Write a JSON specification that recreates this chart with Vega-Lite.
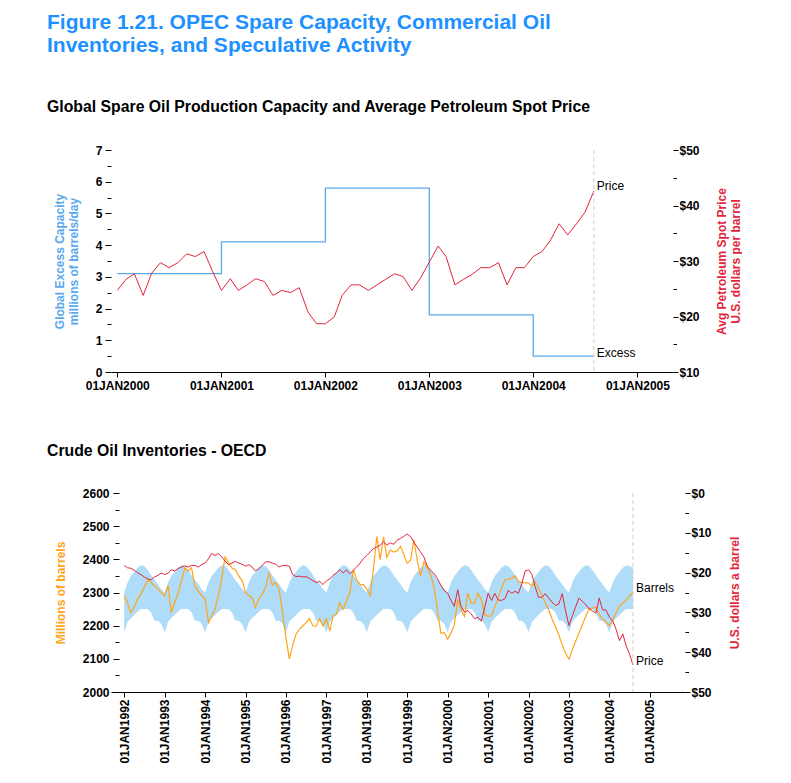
{
  "$schema": "https://vega.github.io/schema/vega-lite/v6.json",
  "background": "white",
  "padding": {"left": 47, "top": 12, "right": 0, "bottom": 0},
  "title": {
    "text": ["Figure 1.21. OPEC Spare Capacity, Commercial Oil", "Inventories, and Speculative Activity"],
    "anchor": "start", "frame": "bounds", "fontSize": 21, "fontWeight": "bold", "color": "#1E90FF", "lineHeight": 23, "offset": 43
  },
  "datasets": {
    "excess": [
      {"date": "2000-01-01T00:00", "capacity": 3.1},
      {"date": "2001-01-01T00:00", "capacity": 4.1},
      {"date": "2002-01-01T00:00", "capacity": 5.8},
      {"date": "2003-01-01T00:00", "capacity": 1.8},
      {"date": "2004-01-01T00:00", "capacity": 0.5},
      {"date": "2004-08-01T00:00", "capacity": 0.5, "label": "Excess"}
    ],
    "spot": [
      {"date": "2000-01-01T00:00", "price": 24.7}, {"date": "2000-02-01T00:00", "price": 26.7}, {"date": "2000-03-01T00:00", "price": 27.7}, {"date": "2000-04-01T00:00", "price": 23.8},
      {"date": "2000-05-01T00:00", "price": 27.8}, {"date": "2000-06-01T00:00", "price": 29.7}, {"date": "2000-07-01T00:00", "price": 28.8}, {"date": "2000-08-01T00:00", "price": 29.7},
      {"date": "2000-09-01T00:00", "price": 31.3}, {"date": "2000-10-01T00:00", "price": 30.8}, {"date": "2000-11-01T00:00", "price": 31.7}, {"date": "2000-12-01T00:00", "price": 28.1},
      {"date": "2001-01-01T00:00", "price": 24.7}, {"date": "2001-02-01T00:00", "price": 26.8}, {"date": "2001-03-01T00:00", "price": 24.7}, {"date": "2001-04-01T00:00", "price": 25.7},
      {"date": "2001-05-01T00:00", "price": 26.8}, {"date": "2001-06-01T00:00", "price": 26.3}, {"date": "2001-07-01T00:00", "price": 23.8}, {"date": "2001-08-01T00:00", "price": 24.7},
      {"date": "2001-09-01T00:00", "price": 24.3}, {"date": "2001-10-01T00:00", "price": 25.2}, {"date": "2001-11-01T00:00", "price": 20.8}, {"date": "2001-12-01T00:00", "price": 18.7},
      {"date": "2002-01-01T00:00", "price": 18.7}, {"date": "2002-02-01T00:00", "price": 19.9}, {"date": "2002-03-01T00:00", "price": 23.8}, {"date": "2002-04-01T00:00", "price": 25.7},
      {"date": "2002-05-01T00:00", "price": 25.7}, {"date": "2002-06-01T00:00", "price": 24.7}, {"date": "2002-07-01T00:00", "price": 25.7}, {"date": "2002-08-01T00:00", "price": 26.7},
      {"date": "2002-09-01T00:00", "price": 27.7}, {"date": "2002-10-01T00:00", "price": 27.2}, {"date": "2002-11-01T00:00", "price": 24.7}, {"date": "2002-12-01T00:00", "price": 26.9},
      {"date": "2003-01-01T00:00", "price": 29.8}, {"date": "2003-02-01T00:00", "price": 32.7}, {"date": "2003-03-01T00:00", "price": 30.8}, {"date": "2003-04-01T00:00", "price": 25.7},
      {"date": "2003-05-01T00:00", "price": 26.7}, {"date": "2003-06-01T00:00", "price": 27.6}, {"date": "2003-07-01T00:00", "price": 28.8}, {"date": "2003-08-01T00:00", "price": 28.8},
      {"date": "2003-09-01T00:00", "price": 29.7}, {"date": "2003-10-01T00:00", "price": 25.7}, {"date": "2003-11-01T00:00", "price": 28.8}, {"date": "2003-12-01T00:00", "price": 28.8},
      {"date": "2004-01-01T00:00", "price": 30.8}, {"date": "2004-02-01T00:00", "price": 31.7}, {"date": "2004-03-01T00:00", "price": 33.7}, {"date": "2004-04-01T00:00", "price": 36.7},
      {"date": "2004-05-01T00:00", "price": 34.7}, {"date": "2004-06-01T00:00", "price": 36.7}, {"date": "2004-07-01T00:00", "price": 38.8}, {"date": "2004-08-01T00:00", "price": 42.6, "label": "Price"}
    ],
    "ref": [{"date": "2004-08-01T00:00"}],
    "oecd": [
      {"date":"1992-01-01T00:00","barrels":2291,"price":18.2,"hi":2300,"lo":2180},
      {"date":"1992-02-01T00:00","barrels":2269,"price":18.8,"hi":2330,"lo":2212},
      {"date":"1992-03-01T00:00","barrels":2239,"price":18.9,"hi":2350,"lo":2222},
      {"date":"1992-04-01T00:00","barrels":2256,"price":19.4,"hi":2362,"lo":2232},
      {"date":"1992-05-01T00:00","barrels":2280,"price":20.0,"hi":2375,"lo":2242},
      {"date":"1992-06-01T00:00","barrels":2296,"price":20.5,"hi":2382,"lo":2250},
      {"date":"1992-07-01T00:00","barrels":2316,"price":21.1,"hi":2380,"lo":2250},
      {"date":"1992-08-01T00:00","barrels":2338,"price":21.6,"hi":2368,"lo":2250},
      {"date":"1992-09-01T00:00","barrels":2330,"price":21.8,"hi":2352,"lo":2240},
      {"date":"1992-10-01T00:00","barrels":2320,"price":21.1,"hi":2338,"lo":2215},
      {"date":"1992-11-01T00:00","barrels":2310,"price":20.7,"hi":2325,"lo":2215},
      {"date":"1992-12-01T00:00","barrels":2300,"price":20.1,"hi":2310,"lo":2205},
      {"date":"1993-01-01T00:00","barrels":2290,"price":20.5,"hi":2300,"lo":2180},
      {"date":"1993-02-01T00:00","barrels":2321,"price":20.1,"hi":2330,"lo":2212},
      {"date":"1993-03-01T00:00","barrels":2239,"price":19.3,"hi":2350,"lo":2222},
      {"date":"1993-04-01T00:00","barrels":2270,"price":19.6,"hi":2362,"lo":2232},
      {"date":"1993-05-01T00:00","barrels":2297,"price":19.0,"hi":2375,"lo":2242},
      {"date":"1993-06-01T00:00","barrels":2335,"price":18.6,"hi":2382,"lo":2250},
      {"date":"1993-07-01T00:00","barrels":2374,"price":18.3,"hi":2380,"lo":2250},
      {"date":"1993-08-01T00:00","barrels":2364,"price":18.6,"hi":2368,"lo":2250},
      {"date":"1993-09-01T00:00","barrels":2374,"price":18.2,"hi":2352,"lo":2240},
      {"date":"1993-10-01T00:00","barrels":2319,"price":18.2,"hi":2338,"lo":2215},
      {"date":"1993-11-01T00:00","barrels":2304,"price":18.6,"hi":2325,"lo":2215},
      {"date":"1993-12-01T00:00","barrels":2291,"price":18.0,"hi":2310,"lo":2205},
      {"date":"1994-01-01T00:00","barrels":2281,"price":17.6,"hi":2300,"lo":2180},
      {"date":"1994-02-01T00:00","barrels":2209,"price":16.5,"hi":2330,"lo":2212},
      {"date":"1994-03-01T00:00","barrels":2229,"price":15.2,"hi":2350,"lo":2222},
      {"date":"1994-04-01T00:00","barrels":2250,"price":15.7,"hi":2362,"lo":2232},
      {"date":"1994-05-01T00:00","barrels":2290,"price":15.2,"hi":2375,"lo":2242},
      {"date":"1994-06-01T00:00","barrels":2345,"price":16.1,"hi":2382,"lo":2250},
      {"date":"1994-07-01T00:00","barrels":2408,"price":17.1,"hi":2380,"lo":2250},
      {"date":"1994-08-01T00:00","barrels":2390,"price":18.0,"hi":2368,"lo":2250},
      {"date":"1994-09-01T00:00","barrels":2374,"price":17.6,"hi":2352,"lo":2240},
      {"date":"1994-10-01T00:00","barrels":2369,"price":17.2,"hi":2338,"lo":2215},
      {"date":"1994-11-01T00:00","barrels":2350,"price":17.6,"hi":2325,"lo":2215},
      {"date":"1994-12-01T00:00","barrels":2336,"price":17.9,"hi":2310,"lo":2205},
      {"date":"1995-01-01T00:00","barrels":2300,"price":18.4,"hi":2300,"lo":2180},
      {"date":"1995-02-01T00:00","barrels":2290,"price":18.0,"hi":2330,"lo":2212},
      {"date":"1995-03-01T00:00","barrels":2285,"price":18.6,"hi":2350,"lo":2222},
      {"date":"1995-04-01T00:00","barrels":2255,"price":19.6,"hi":2362,"lo":2232},
      {"date":"1995-05-01T00:00","barrels":2280,"price":19.0,"hi":2375,"lo":2242},
      {"date":"1995-06-01T00:00","barrels":2295,"price":18.2,"hi":2382,"lo":2250},
      {"date":"1995-07-01T00:00","barrels":2315,"price":17.3,"hi":2380,"lo":2250},
      {"date":"1995-08-01T00:00","barrels":2358,"price":17.3,"hi":2368,"lo":2250},
      {"date":"1995-09-01T00:00","barrels":2322,"price":17.6,"hi":2352,"lo":2240},
      {"date":"1995-10-01T00:00","barrels":2330,"price":17.9,"hi":2338,"lo":2215},
      {"date":"1995-11-01T00:00","barrels":2308,"price":18.6,"hi":2325,"lo":2215},
      {"date":"1995-12-01T00:00","barrels":2240,"price":18.2,"hi":2310,"lo":2205},
      {"date":"1996-01-01T00:00","barrels":2165,"price":18.2,"hi":2300,"lo":2180},
      {"date":"1996-02-01T00:00","barrels":2100,"price":18.4,"hi":2330,"lo":2212},
      {"date":"1996-03-01T00:00","barrels":2139,"price":20.5,"hi":2350,"lo":2222},
      {"date":"1996-04-01T00:00","barrels":2174,"price":21.0,"hi":2362,"lo":2232},
      {"date":"1996-05-01T00:00","barrels":2189,"price":20.9,"hi":2375,"lo":2242},
      {"date":"1996-06-01T00:00","barrels":2199,"price":21.1,"hi":2382,"lo":2250},
      {"date":"1996-07-01T00:00","barrels":2209,"price":21.0,"hi":2380,"lo":2250},
      {"date":"1996-08-01T00:00","barrels":2221,"price":21.5,"hi":2368,"lo":2250},
      {"date":"1996-09-01T00:00","barrels":2199,"price":22.0,"hi":2352,"lo":2240},
      {"date":"1996-10-01T00:00","barrels":2199,"price":22.5,"hi":2338,"lo":2215},
      {"date":"1996-11-01T00:00","barrels":2221,"price":22.2,"hi":2325,"lo":2215},
      {"date":"1996-12-01T00:00","barrels":2199,"price":23.0,"hi":2310,"lo":2205},
      {"date":"1997-01-01T00:00","barrels":2221,"price":22.1,"hi":2300,"lo":2180},
      {"date":"1997-02-01T00:00","barrels":2184,"price":21.6,"hi":2330,"lo":2212},
      {"date":"1997-03-01T00:00","barrels":2229,"price":20.7,"hi":2350,"lo":2222},
      {"date":"1997-04-01T00:00","barrels":2234,"price":20.1,"hi":2362,"lo":2232},
      {"date":"1997-05-01T00:00","barrels":2269,"price":19.3,"hi":2375,"lo":2242},
      {"date":"1997-06-01T00:00","barrels":2249,"price":20.1,"hi":2382,"lo":2250},
      {"date":"1997-07-01T00:00","barrels":2274,"price":19.3,"hi":2380,"lo":2250},
      {"date":"1997-08-01T00:00","barrels":2300,"price":20.3,"hi":2368,"lo":2250},
      {"date":"1997-09-01T00:00","barrels":2369,"price":19.4,"hi":2352,"lo":2240},
      {"date":"1997-10-01T00:00","barrels":2339,"price":18.6,"hi":2338,"lo":2215},
      {"date":"1997-11-01T00:00","barrels":2324,"price":17.6,"hi":2325,"lo":2215},
      {"date":"1997-12-01T00:00","barrels":2324,"price":16.5,"hi":2310,"lo":2205},
      {"date":"1998-01-01T00:00","barrels":2310,"price":15.7,"hi":2300,"lo":2180},
      {"date":"1998-02-01T00:00","barrels":2290,"price":14.8,"hi":2330,"lo":2212},
      {"date":"1998-03-01T00:00","barrels":2370,"price":14.0,"hi":2350,"lo":2222},
      {"date":"1998-04-01T00:00","barrels":2469,"price":13.6,"hi":2362,"lo":2232},
      {"date":"1998-05-01T00:00","barrels":2399,"price":13.1,"hi":2375,"lo":2242},
      {"date":"1998-06-01T00:00","barrels":2468,"price":12.3,"hi":2382,"lo":2250},
      {"date":"1998-07-01T00:00","barrels":2406,"price":13.1,"hi":2380,"lo":2250},
      {"date":"1998-08-01T00:00","barrels":2428,"price":12.5,"hi":2368,"lo":2250},
      {"date":"1998-09-01T00:00","barrels":2422,"price":12.9,"hi":2352,"lo":2240},
      {"date":"1998-10-01T00:00","barrels":2425,"price":11.9,"hi":2338,"lo":2215},
      {"date":"1998-11-01T00:00","barrels":2439,"price":11.4,"hi":2325,"lo":2215},
      {"date":"1998-12-01T00:00","barrels":2414,"price":10.9,"hi":2310,"lo":2205},
      {"date":"1999-01-01T00:00","barrels":2388,"price":10.3,"hi":2300,"lo":2180},
      {"date":"1999-02-01T00:00","barrels":2398,"price":11.0,"hi":2330,"lo":2212},
      {"date":"1999-03-01T00:00","barrels":2459,"price":12.3,"hi":2350,"lo":2222},
      {"date":"1999-04-01T00:00","barrels":2398,"price":13.6,"hi":2362,"lo":2232},
      {"date":"1999-05-01T00:00","barrels":2350,"price":14.8,"hi":2375,"lo":2242},
      {"date":"1999-06-01T00:00","barrels":2393,"price":16.1,"hi":2382,"lo":2250},
      {"date":"1999-07-01T00:00","barrels":2373,"price":18.4,"hi":2380,"lo":2250},
      {"date":"1999-08-01T00:00","barrels":2353,"price":19.4,"hi":2368,"lo":2250},
      {"date":"1999-09-01T00:00","barrels":2315,"price":20.3,"hi":2352,"lo":2240},
      {"date":"1999-10-01T00:00","barrels":2245,"price":21.5,"hi":2338,"lo":2215},
      {"date":"1999-11-01T00:00","barrels":2177,"price":23.2,"hi":2325,"lo":2215},
      {"date":"1999-12-01T00:00","barrels":2179,"price":24.5,"hi":2310,"lo":2205},
      {"date":"2000-01-01T00:00","barrels":2159,"price":25.2,"hi":2300,"lo":2180},
      {"date":"2000-02-01T00:00","barrels":2179,"price":27.0,"hi":2330,"lo":2212},
      {"date":"2000-03-01T00:00","barrels":2202,"price":28.5,"hi":2350,"lo":2222},
      {"date":"2000-04-01T00:00","barrels":2280,"price":24.3,"hi":2362,"lo":2232},
      {"date":"2000-05-01T00:00","barrels":2248,"price":28.5,"hi":2375,"lo":2242},
      {"date":"2000-06-01T00:00","barrels":2228,"price":29.9,"hi":2382,"lo":2250},
      {"date":"2000-07-01T00:00","barrels":2298,"price":29.5,"hi":2380,"lo":2250},
      {"date":"2000-08-01T00:00","barrels":2268,"price":30.4,"hi":2368,"lo":2250},
      {"date":"2000-09-01T00:00","barrels":2268,"price":31.6,"hi":2352,"lo":2240},
      {"date":"2000-10-01T00:00","barrels":2298,"price":31.2,"hi":2338,"lo":2215},
      {"date":"2000-11-01T00:00","barrels":2278,"price":32.2,"hi":2325,"lo":2215},
      {"date":"2000-12-01T00:00","barrels":2233,"price":28.7,"hi":2310,"lo":2205},
      {"date":"2001-01-01T00:00","barrels":2228,"price":25.2,"hi":2300,"lo":2180},
      {"date":"2001-02-01T00:00","barrels":2230,"price":27.0,"hi":2330,"lo":2212},
      {"date":"2001-03-01T00:00","barrels":2256,"price":25.2,"hi":2350,"lo":2222},
      {"date":"2001-04-01T00:00","barrels":2283,"price":26.9,"hi":2362,"lo":2232},
      {"date":"2001-05-01T00:00","barrels":2313,"price":27.0,"hi":2375,"lo":2242},
      {"date":"2001-06-01T00:00","barrels":2338,"price":26.6,"hi":2382,"lo":2250},
      {"date":"2001-07-01T00:00","barrels":2340,"price":24.5,"hi":2380,"lo":2250},
      {"date":"2001-08-01T00:00","barrels":2343,"price":25.2,"hi":2368,"lo":2250},
      {"date":"2001-09-01T00:00","barrels":2350,"price":24.7,"hi":2352,"lo":2240},
      {"date":"2001-10-01T00:00","barrels":2333,"price":25.2,"hi":2338,"lo":2215},
      {"date":"2001-11-01T00:00","barrels":2330,"price":22.8,"hi":2325,"lo":2215},
      {"date":"2001-12-01T00:00","barrels":2330,"price":19.6,"hi":2310,"lo":2205},
      {"date":"2002-01-01T00:00","barrels":2328,"price":19.3,"hi":2300,"lo":2180},
      {"date":"2002-02-01T00:00","barrels":2320,"price":20.5,"hi":2330,"lo":2212},
      {"date":"2002-03-01T00:00","barrels":2333,"price":23.5,"hi":2350,"lo":2222},
      {"date":"2002-04-01T00:00","barrels":2313,"price":26.2,"hi":2362,"lo":2232},
      {"date":"2002-05-01T00:00","barrels":2293,"price":26.2,"hi":2375,"lo":2242},
      {"date":"2002-06-01T00:00","barrels":2268,"price":25.3,"hi":2382,"lo":2250},
      {"date":"2002-07-01T00:00","barrels":2248,"price":26.4,"hi":2380,"lo":2250},
      {"date":"2002-08-01T00:00","barrels":2220,"price":27.4,"hi":2368,"lo":2250},
      {"date":"2002-09-01T00:00","barrels":2197,"price":28.3,"hi":2352,"lo":2240},
      {"date":"2002-10-01T00:00","barrels":2172,"price":27.9,"hi":2338,"lo":2215},
      {"date":"2002-11-01T00:00","barrels":2142,"price":25.3,"hi":2325,"lo":2215},
      {"date":"2002-12-01T00:00","barrels":2117,"price":29.6,"hi":2310,"lo":2205},
      {"date":"2003-01-01T00:00","barrels":2099,"price":33.3,"hi":2300,"lo":2180},
      {"date":"2003-02-01T00:00","barrels":2127,"price":30.8,"hi":2330,"lo":2212},
      {"date":"2003-03-01T00:00","barrels":2152,"price":28.7,"hi":2350,"lo":2222},
      {"date":"2003-04-01T00:00","barrels":2177,"price":26.4,"hi":2362,"lo":2232},
      {"date":"2003-05-01T00:00","barrels":2202,"price":27.2,"hi":2375,"lo":2242},
      {"date":"2003-06-01T00:00","barrels":2228,"price":28.0,"hi":2382,"lo":2250},
      {"date":"2003-07-01T00:00","barrels":2250,"price":29.1,"hi":2380,"lo":2250},
      {"date":"2003-08-01T00:00","barrels":2253,"price":29.6,"hi":2368,"lo":2250},
      {"date":"2003-09-01T00:00","barrels":2256,"price":30.2,"hi":2352,"lo":2240},
      {"date":"2003-10-01T00:00","barrels":2233,"price":26.4,"hi":2338,"lo":2215},
      {"date":"2003-11-01T00:00","barrels":2220,"price":29.4,"hi":2325,"lo":2215},
      {"date":"2003-12-01T00:00","barrels":2210,"price":29.4,"hi":2310,"lo":2205},
      {"date":"2004-01-01T00:00","barrels":2200,"price":31.2,"hi":2300,"lo":2180},
      {"date":"2004-02-01T00:00","barrels":2218,"price":32.2,"hi":2330,"lo":2212},
      {"date":"2004-03-01T00:00","barrels":2238,"price":34.2,"hi":2350,"lo":2222},
      {"date":"2004-04-01T00:00","barrels":2259,"price":37.1,"hi":2362,"lo":2232},
      {"date":"2004-05-01T00:00","barrels":2268,"price":35.4,"hi":2375,"lo":2242},
      {"date":"2004-06-01T00:00","barrels":2278,"price":38.4,"hi":2382,"lo":2250},
      {"date":"2004-07-01T00:00","barrels":2290,"price":40.5,"hi":2380,"lo":2250},
      {"date":"2004-08-01T00:00","barrels":2300,"price":43.2,"hi":2375,"lo":2250,"barrelsLabel":"Barrels","priceLabel":"Price"}
    ]
  },
  "concat": [
    {
      "title": {"text": "Global Spare Oil Production Capacity and Average Petroleum Spot Price", "anchor": "start", "frame": "group", "dx": -64, "fontSize": 15.8, "fontWeight": "bold", "color": "#000000", "offset": 28},
      "width": 562,
      "height": 222,
      "encoding": {
        "x": {
          "field": "date", "type": "temporal",
          "scale": {"domain": [{"year": 1999, "month": 12, "date": 10}, {"year": 2005, "month": 5, "date": 6}]},
          "axis": {
            "title": null,
            "values": [{"year": 2000, "month": 1, "date": 1}, {"year": 2001, "month": 1, "date": 1}, {"year": 2002, "month": 1, "date": 1}, {"year": 2003, "month": 1, "date": 1}, {"year": 2004, "month": 1, "date": 1}, {"year": 2005, "month": 1, "date": 1}],
            "labelExpr": "upper(timeFormat(datum.value, '%d%b%Y'))",
            "tickSize": 5, "labelPadding": 3, "labelFlush": false, "labelOverlap": false, "labelBound": false
          }
        }
      },
      "layer": [
        {
          "data": {"name": "excess"},
          "encoding": {
            "y": {
              "field": "capacity", "type": "quantitative",
              "scale": {"domain": [0, 7]},
              "axis": {
                "title": ["Global Excess Capacity", "millions of barrels/day"],
                "titleColor": "#5aa9ee", "titlePadding": 15, "titleLineHeight": 14,
                "domain": false,
                "values": [0, 0.5, 1, 1.5, 2, 2.5, 3, 3.5, 4, 4.5, 5, 5.5, 6, 6.5, 7],
                "labelExpr": "datum.value % 1 === 0 ? format(datum.value, 'd') : ''",
                "tickSize": {"condition": {"test": "datum.value % 1 === 0", "value": 6}, "value": 4},
                "labelPadding": 3, "labelOverlap": false, "labelFlush": false
              }
            }
          },
          "layer": [
            {"mark": {"type": "line", "interpolate": "step-after", "color": "#5aa9ee", "strokeWidth": 1.3}, "encoding": {}},
            {
              "transform": [{"filter": "isValid(datum.label)"}],
              "mark": {"type": "text", "align": "left", "baseline": "middle", "dx": 3, "dy": -3, "fontSize": 12, "color": "#000000"},
              "encoding": {"text": {"field": "label"}}
            }
          ]
        },
        {
          "data": {"name": "spot"},
          "encoding": {
            "y": {
              "field": "price", "type": "quantitative",
              "scale": {"domain": [10, 50]},
              "axis": {
                "orient": "right",
                "title": ["Avg Petroleum Spot Price", "U.S. dollars per barrel"],
                "titleColor": "#e3263c", "titleAngle": 270, "titleBaseline": "top", "titlePadding": 3, "titleLineHeight": 14,
                "domain": false,
                "values": [10, 15, 20, 25, 30, 35, 40, 45, 50],
                "labelExpr": "datum.value % 10 === 0 ? '$' + datum.value : ''",
                "tickSize": {"condition": {"test": "datum.value % 10 === 0", "value": 5}, "value": 3.5},
                "labelPadding": 1, "labelOverlap": false, "labelFlush": false
              }
            }
          },
          "layer": [
            {"mark": {"type": "line", "color": "#e3263c", "strokeWidth": 1}, "encoding": {}},
            {
              "transform": [{"filter": "isValid(datum.label)"}],
              "mark": {"type": "text", "align": "left", "baseline": "middle", "dx": 3, "dy": -5, "fontSize": 12, "color": "#000000"},
              "encoding": {"text": {"field": "label"}}
            }
          ]
        },
        {
          "data": {"name": "ref"},
          "mark": {"type": "rule", "color": "#cfcfcf", "strokeDash": [4, 3], "strokeWidth": 1},
          "encoding": {}
        }
      ],
      "resolve": {"scale": {"y": "independent"}}
    },
    {
      "title": {"text": "Crude Oil Inventories - OECD", "anchor": "start", "frame": "group", "dx": -64, "fontSize": 15.8, "fontWeight": "bold", "color": "#000000", "offset": 27},
      "width": 574,
      "height": 199,
      "encoding": {
        "x": {
          "field": "date", "type": "temporal",
          "scale": {"domain": [{"year": 1991, "month": 9, "date": 4}, {"year": 2005, "month": 11, "date": 14}]},
          "axis": {
            "title": null,
            "values": [{"year": 1992, "month": 1, "date": 1}, {"year": 1993, "month": 1, "date": 1}, {"year": 1994, "month": 1, "date": 1}, {"year": 1995, "month": 1, "date": 1}, {"year": 1996, "month": 1, "date": 1}, {"year": 1997, "month": 1, "date": 1}, {"year": 1998, "month": 1, "date": 1}, {"year": 1999, "month": 1, "date": 1}, {"year": 2000, "month": 1, "date": 1}, {"year": 2001, "month": 1, "date": 1}, {"year": 2002, "month": 1, "date": 1}, {"year": 2003, "month": 1, "date": 1}, {"year": 2004, "month": 1, "date": 1}, {"year": 2005, "month": 1, "date": 1}],
            "labelExpr": "upper(timeFormat(datum.value, '%d%b%Y'))",
            "labelAngle": 270,
            "tickSize": 5, "labelPadding": 2, "labelFlush": false, "labelOverlap": false, "labelBound": false
          }
        }
      },
      "layer": [
        {
          "data": {"name": "oecd"},
          "encoding": {
            "y": {
              "field": "barrels", "type": "quantitative",
              "scale": {"domain": [2000, 2600]},
              "axis": {
                "title": "Millions of barrels",
                "titleColor": "#ffa41b", "titlePadding": 15,
                "offset": -8,
                "domain": false,
                "values": [2000, 2050, 2100, 2150, 2200, 2250, 2300, 2350, 2400, 2450, 2500, 2550, 2600],
                "labelExpr": "datum.value % 100 === 0 ? format(datum.value, 'd') : ''",
                "tickSize": {"condition": {"test": "datum.value % 100 === 0", "value": 6}, "value": 4},
                "labelPadding": 4, "labelOverlap": false, "labelFlush": false
              }
            }
          },
          "layer": [
            {
              "mark": {"type": "area", "color": "#afdcf9", "opacity": 1},
              "encoding": {
                "y": {"field": "hi", "type": "quantitative"},
                "y2": {"field": "lo"}
              }
            },
            {
              "mark": {"type": "line", "color": "#ffa41b", "strokeWidth": 1.2},
              "encoding": {}
            },
            {
              "transform": [{"filter": "isValid(datum.barrelsLabel)"}],
              "mark": {"type": "text", "align": "left", "baseline": "middle", "dx": 3, "dy": -5, "fontSize": 12, "color": "#000000"},
              "encoding": {"text": {"field": "barrelsLabel"}}
            }
          ]
        },
        {
          "data": {"name": "oecd"},
          "encoding": {
            "y": {
              "field": "price", "type": "quantitative",
              "scale": {"domain": [0, 50], "reverse": true},
              "axis": {
                "orient": "right",
                "title": "U.S. dollars a barrel",
                "titleColor": "#e3263c", "titleAngle": 270, "titleBaseline": "top", "titlePadding": 18,
                "domain": false,
                "values": [0, 5, 10, 15, 20, 25, 30, 35, 40, 45, 50],
                "labelExpr": "datum.value % 10 === 0 ? '$' + datum.value : ''",
                "tickSize": {"condition": {"test": "datum.value % 10 === 0", "value": 5}, "value": 3.5},
                "labelPadding": 1, "labelOverlap": false, "labelFlush": false
              }
            }
          },
          "layer": [
            {"mark": {"type": "line", "color": "#e3263c", "strokeWidth": 1}, "encoding": {}},
            {
              "transform": [{"filter": "isValid(datum.priceLabel)"}],
              "mark": {"type": "text", "align": "left", "baseline": "middle", "dx": 3, "dy": -4, "fontSize": 12, "color": "#000000"},
              "encoding": {"text": {"field": "priceLabel"}}
            }
          ]
        },
        {
          "data": {"name": "ref"},
          "mark": {"type": "rule", "color": "#cfcfcf", "strokeDash": [4, 3], "strokeWidth": 1},
          "encoding": {}
        }
      ],
      "resolve": {"scale": {"y": "independent"}}
    }
  ],
  "columns": 1,
  "spacing": 52,
  "resolve": {"scale": {"x": "independent", "y": "independent"}},
  "config": {
    "view": {"stroke": null},
    "font": "Liberation Sans",
    "axis": {
      "grid": false,
      "labelFont": "Liberation Sans", "labelFontSize": 12, "labelFontWeight": "bold", "labelColor": "#000000",
      "titleFont": "Liberation Sans", "titleFontSize": 12, "titleFontWeight": "bold",
      "tickColor": "#000000", "domainColor": "#000000", "domainWidth": 1, "tickWidth": 1
    },
    "title": {"font": "Liberation Sans", "color": "#000000"},
    "text": {"font": "Liberation Sans"}
  }
}
